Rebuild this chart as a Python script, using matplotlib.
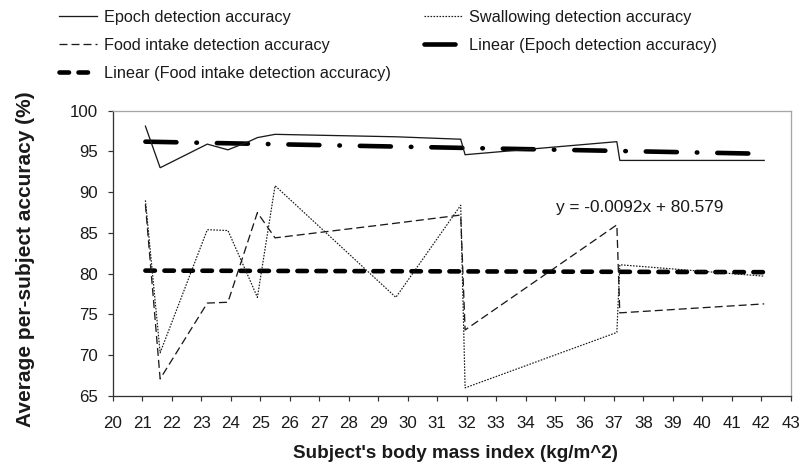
import numpy as np
import matplotlib
matplotlib.use("Agg")
import matplotlib.pyplot as plt

plt.rcParams['lines.scale_dashes'] = False

# ---- data ----
bmi = [21.1, 21.6, 23.2, 23.9, 24.6, 24.9, 25.5, 29.6, 31.8, 31.95, 37.1, 37.2, 42.1]
epoch_acc = [98.1, 93.0, 95.9, 95.2, 96.2, 96.7, 97.1, 96.8, 96.5, 94.6, 96.2, 93.9, 93.9]
food_acc = [88.5, 67.1, 76.4, 76.5, 84.2, 87.5, 84.4, 86.2, 87.2, 73.1, 86.0, 75.2, 76.3]
swallow_acc = [89.0, 70.3, 85.4, 85.3, 79.6, 77.1, 90.8, 77.1, 88.4, 66.0, 72.8, 81.1, 79.7]

# linear trend coefficients (slope, intercept)
epoch_trend = (-0.071, 97.70)
food_trend = (-0.0092, 80.579)
equation_label = "y = -0.0092x + 80.579"

x_ticks = list(range(20, 44))
y_ticks = list(range(65, 101, 5))

labels = ["Epoch detection accuracy", "Swallowing detection accuracy",
          "Food intake detection accuracy", "Linear (Epoch detection accuracy)",
          "Linear (Food intake detection accuracy)"]

# ---- figure ----
DPI = 100
fig = plt.figure(figsize=(8.03, 4.68), dpi=DPI)
ax = fig.add_axes([113 / 803, 1 - 396 / 468, (790.7 - 113) / 803, (396 - 110.7) / 468])

def px(v):
    return v * 72.0 / DPI

ink = '#1a1a1a'
fam = ['Liberation Sans', 'DejaVu Sans']
x = np.array(bmi)

l_epoch, = ax.plot(x, epoch_acc, color=ink, lw=px(1.3), solid_joinstyle='miter', zorder=4)
l_swal, = ax.plot(x, swallow_acc, color=ink, lw=px(1.2), dashes=(px(1.6), px(1.4)), zorder=4)
l_food, = ax.plot(x, food_acc, color=ink, lw=px(1.3), dashes=(px(8), px(4)), zorder=4)

xt = np.array([x.min(), x.max()])
lw_tr = px(4.6)
l_tep, = ax.plot(xt, epoch_trend[0] * xt + epoch_trend[1], color='black', lw=lw_tr,
                 dashes=(px(31), px(20), px(0.5), px(20)), dash_capstyle='round', zorder=3)
l_tfood, = ax.plot(xt, food_trend[0] * xt + food_trend[1], color='black', lw=lw_tr,
                   dashes=(px(9.5), px(9.5)), dash_capstyle='round', zorder=3)

ax.text(35.02, 88.1, equation_label, fontsize=12.4, family=fam,
        color=ink, va='center', ha='left')

ax.set_xlim(20, 43)
ax.set_ylim(65, 100)
ax.set_xticks(x_ticks)
ax.set_yticks(y_ticks)
tick_font = {'family': fam, 'size': 12.2}
ax.set_xticklabels([str(t) for t in x_ticks], fontdict=tick_font, color=ink)
ax.set_yticklabels([str(t) for t in y_ticks], fontdict=tick_font, color=ink)
ax.tick_params(axis='both', direction='out', length=px(5), width=px(1.2), colors='#333333',
               labelcolor=ink)
ax.tick_params(axis='x', pad=px(15))
ax.tick_params(axis='y', pad=px(10))

for s in ['left', 'bottom']:
    ax.spines[s].set_color('#333333')
    ax.spines[s].set_linewidth(px(1.3))
for s in ['top', 'right']:
    ax.spines[s].set_color('#a6a6a6')
    ax.spines[s].set_linewidth(px(1.3))

ax.set_xlabel("Subject's body mass index (kg/m^2)",
              fontdict={'family': fam, 'weight': 'bold', 'size': 13.6},
              color=ink, labelpad=px(14))
ax.set_ylabel("Average per-subject accuracy (%)",
              fontdict={'family': fam, 'weight': 'bold', 'size': 15.0},
              color=ink, labelpad=px(35))
ax.xaxis.label.set_x(0.506)
ax.yaxis.label.set_y(0.48)

handles = [l_epoch, l_food, l_tfood, l_swal, l_tep]
hl = [labels[0], labels[2], labels[4], labels[1], labels[3]]
leg = fig.legend(handles, hl, loc='upper left', bbox_to_anchor=(59 / 803, 1 - 10 / 468),
                 ncol=2, frameon=False, borderpad=0, borderaxespad=0,
                 handlelength=2.35, handletextpad=0.43, columnspacing=2.0, labelspacing=0.8,
                 prop={'family': fam, 'size': 11.7})
for t in leg.get_texts():
    t.set_color(ink)

fig.savefig("out.png", dpi=DPI)
